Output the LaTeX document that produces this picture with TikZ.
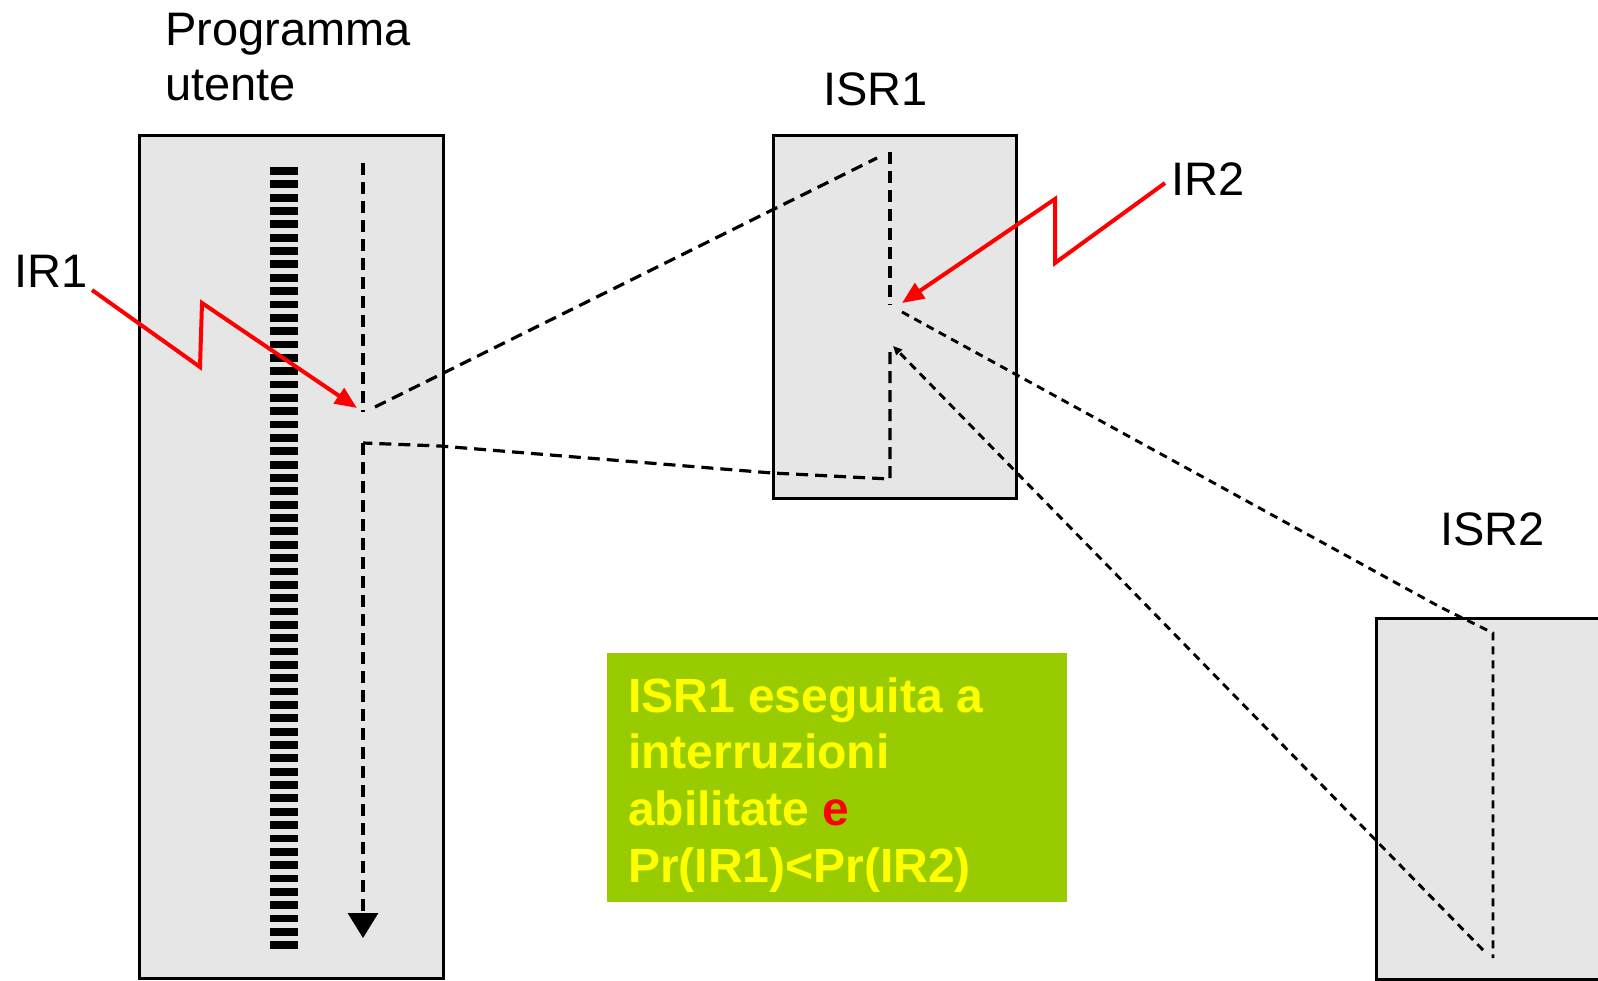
\documentclass[tikz,border=0pt]{standalone}
\usepackage{fontspec}
\setmainfont{Liberation Sans}
\usetikzlibrary{arrows.meta}
\definecolor{boxgray}{HTML}{E6E6E6}
\definecolor{notegreen}{HTML}{99CC00}
\definecolor{noteyellow}{HTML}{FFFF00}
\definecolor{irred}{HTML}{FF0000}
\tikzset{
  panel/.style={draw=black, line width=3.2pt, fill=boxgray, inner sep=0pt, anchor=north west},
  lbl/.style={inner sep=0pt, anchor=base west, font=\fontsize{47}{55}\selectfont},
  notetext/.style={inner sep=0pt, anchor=base west, text=noteyellow, font=\fontsize{48}{57}\selectfont\bfseries},
  flowlong/.style={draw=black, line width=3.2pt, dash pattern=on 12pt off 7pt},
  flowshort/.style={draw=black, line width=2.9pt, dash pattern=on 8pt off 6pt},
  irq/.style={draw=irred, line width=4pt, line join=miter, -{Triangle[length=22pt,width=18pt]}},
  stripe/.style={fill=black}
}
\begin{document}
\begin{tikzpicture}[x=1pt,y=-1pt]
\useasboundingbox (0,0) rectangle (1598,980);
\clip (0,0) rectangle (1598,980);

% boxes
\node[panel, minimum width=304pt, minimum height=843pt] (prog) at (138,134) {};
\node[panel, minimum width=243pt, minimum height=363pt] (isr1) at (772,134) {};
\node[panel, minimum width=280pt, minimum height=361pt] (isr2) at (1375,617) {};

% stripes of the user program
\foreach \i in {0,...,58}{
  \fill[stripe] (270,{167+13.35*\i}) rectangle (298,{174.8+13.35*\i});
}

% labels
\node[lbl] (lprog) at (165,45) {Programma};
\node[lbl] (lprog2) at (165,100) {utente};
\node[lbl] (lir1) at (14,287) {IR1};
\node[lbl] (lisr1) at (823,105) {ISR1};
\node[lbl] (lir2) at (1171,195) {IR2};
\node[lbl] (lisr2) at (1440,545) {ISR2};

% flow coordinates
\coordinate (p0) at (363,163);
\coordinate (p1) at (363,412);
\coordinate (p1b) at (375,407);
\coordinate (a0) at (877,158);
\coordinate (a1) at (890,152);
\coordinate (a2) at (890,305);
\coordinate (a3) at (902,312);
\coordinate (b0) at (1440,607);
\coordinate (b1) at (1493,633);
\coordinate (b2) at (1493,958);
\coordinate (b3) at (1483,950);
\coordinate (a4) at (893,346);
\coordinate (a5) at (890,352);
\coordinate (a6) at (890,479);
\coordinate (q0) at (772,473);
\coordinate (q1) at (440,446);
\coordinate (q2) at (363,443);
\coordinate (q3) at (363,938);

% program flow
\draw[flowlong] (p0) -- (p1);
\draw[flowlong] (p1b) -- (a0);
\draw[flowlong] (a1) -- (a2);
\draw[flowshort] (a3) -- (b0) -- (b1) -- (b2);
\draw[flowshort, -{Triangle[length=9pt,width=8pt]}] (b3) -- (a4);
\draw[flowlong] (a5) -- (a6) -- (q0) -- (q1) -- (q2);
\draw[flowlong, -{Triangle[length=25pt,width=30pt]}] (q2) -- (q3);

% interrupt requests
\coordinate (r1s) at (92,290);
\coordinate (r1a) at (200,367);
\coordinate (r1b) at (202,303);
\coordinate (r1t) at (357,408);
\draw[irq] (r1s) -- (r1a) -- (r1b) -- (r1t);
\coordinate (r2s) at (1165,183);
\coordinate (r2a) at (1055,263);
\coordinate (r2b) at (1055,199);
\coordinate (r2t) at (902,303);
\draw[irq] (r2s) -- (r2a) -- (r2b) -- (r2t);

% note
\node[fill=notegreen, inner sep=0pt, anchor=north west, minimum width=460pt, minimum height=249pt] (note) at (607,653) {};
\node[notetext] (n1) at (628,712) {ISR1 eseguita a};
\node[notetext] (n2) at (628,768) {interruzioni};
\node[notetext] (n3) at (628,825) {abilitate \textcolor{irred}{e}};
\node[notetext] (n4) at (628,882) {Pr(IR1)<Pr(IR2)};
\end{tikzpicture}
\end{document}
